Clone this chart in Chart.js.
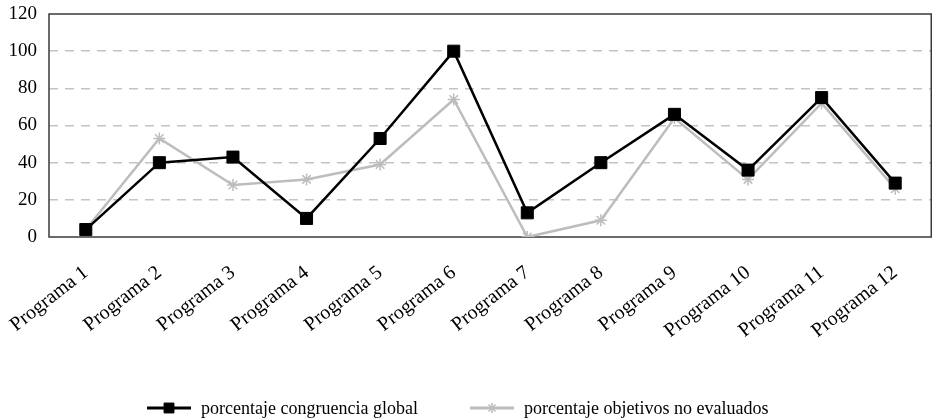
<!DOCTYPE html>
<html>
<head>
<meta charset="utf-8">
<script src="https://cdn.jsdelivr.net/npm/chart.js@4.4.0/dist/chart.umd.min.js"></script>
<style>
  html, body { margin: 0; padding: 0; background: #fff; }
  #wrap { position: relative; width: 932px; height: 420px; overflow: hidden; }
  #legend { position: absolute; left: 0; top: 398px; width: 932px; height: 20px;
            font-family: "Liberation Serif", "DejaVu Serif", serif; font-size: 18px; color: #000; }
  .item { position: absolute; top: 0; display: flex; align-items: center; height: 20px; white-space: nowrap; }
  .item:nth-child(1) { left: 147px; }
  .item:nth-child(2) { left: 470px; }
  .item canvas { margin-right: 10px; }
</style>
</head>
<body>
<div id="wrap">
  <canvas id="chart" width="932" height="420"></canvas>
  <div id="legend"></div>
</div>
<script>
// 数据
const programas = ['Programa 1', 'Programa 2', 'Programa 3', 'Programa 4', 'Programa 5', 'Programa 6',
                   'Programa 7', 'Programa 8', 'Programa 9', 'Programa 10', 'Programa 11', 'Programa 12'];
const congruenciaGlobal = [4, 40, 43, 10, 53, 100, 13, 40, 66, 36, 75, 29];
const objetivosNoEvaluados = [4, 53, 28, 31, 39, 74, 0, 9, 64, 31, 72, 26];
const yTicks = [0, 20, 40, 60, 80, 100, 120];
const seriesNames = ['porcentaje congruencia global', 'porcentaje objetivos no evaluados'];

const FONT = '"Liberation Serif", "DejaVu Serif", serif';

// 边框插件
const framePlugin = {
    id: 'frame',
    beforeDatasetsDraw(chart) {
        const a = chart.chartArea;
        const ctx = chart.ctx;
        ctx.save();
        ctx.strokeStyle = '#3a3a3a';
        ctx.lineWidth = 1.5;
        ctx.strokeRect(a.left, a.top, a.right - a.left - 0.75, a.bottom - a.top);
        ctx.restore();
    }
};

const ctx = document.getElementById('chart').getContext('2d');
const chart = new Chart(ctx, {
    type: 'line',
    data: {
        labels: programas,
        datasets: [
            {
                label: seriesNames[0],
                data: congruenciaGlobal,
                borderColor: '#000000',
                backgroundColor: '#000000',
                borderWidth: 2.5,
                pointStyle: 'rect',
                pointRadius: 8.5,
                pointBorderWidth: 1,
                pointBackgroundColor: '#000000',
                pointBorderColor: '#000000',
                tension: 0,
                fill: false
            },
            {
                label: seriesNames[1],
                data: objetivosNoEvaluados,
                borderColor: '#bdbdbd',
                backgroundColor: '#bdbdbd',
                borderWidth: 2.5,
                pointStyle: 'star',
                pointRadius: 6,
                pointBorderWidth: 1.5,
                pointBackgroundColor: '#bdbdbd',
                pointBorderColor: '#bdbdbd',
                tension: 0,
                fill: false
            }
        ]
    },
    options: {
        responsive: false,
        animation: false,
        layout: { autoPadding: false, padding: { top: 14, right: 0, left: 0, bottom: 0 } },
        plugins: {
            legend: { display: false },
            tooltip: { enabled: false }
        },
        scales: {
            x: {
                offset: true,
                grid: { display: false },
                border: { display: false },
                ticks: {
                    color: '#000',
                    font: { family: FONT, size: 20 },
                    minRotation: 38,
                    maxRotation: 38,
                    autoSkip: false,
                    padding: 16
                },
                afterFit(scale) {
                    scale.height = 183;
                    scale.paddingLeft = 0;
                    scale.paddingRight = 0;
                }
            },
            y: {
                min: 0,
                max: 120,
                afterBuildTicks(scale) { scale.ticks = yTicks.map(v => ({ value: v })); },
                grid: {
                    drawTicks: false,
                    color: c => (c.tick && (c.tick.value === 0 || c.tick.value === 120)) ? 'rgba(0,0,0,0)' : '#c4c4c4',
                    lineWidth: 1.5
                },
                border: { display: false, dash: [9, 7] },
                ticks: {
                    color: '#000',
                    font: { family: FONT, size: 19 },
                    padding: 12
                },
                afterFit(scale) {
                    scale.width = 49;
                    scale.paddingTop = 0;
                    scale.paddingBottom = 0;
                }
            }
        }
    },
    plugins: [framePlugin]
});

// 自定义图例
function buildLegend() {
    const legend = document.getElementById('legend');
    chart.data.datasets.forEach(ds => {
        const item = document.createElement('div');
        item.className = 'item';
        const icon = document.createElement('canvas');
        icon.width = 44;
        icon.height = 20;
        const ic = icon.getContext('2d');
        ic.strokeStyle = ds.borderColor;
        ic.lineWidth = 3;
        ic.beginPath();
        ic.moveTo(0, 10);
        ic.lineTo(44, 10);
        ic.stroke();
        ic.fillStyle = ds.pointBackgroundColor;
        ic.strokeStyle = ds.pointBorderColor;
        ic.lineWidth = ds.pointBorderWidth;
        Chart.helpers.drawPoint(ic, {
            pointStyle: ds.pointStyle,
            radius: ds.pointStyle === 'rect' ? 7 : 5,
            rotation: 0,
            borderWidth: ds.pointBorderWidth
        }, 22, 10);
        item.appendChild(icon);
        const text = document.createElement('span');
        text.textContent = ds.label;
        item.appendChild(text);
        legend.appendChild(item);
    });
}
buildLegend();
</script>
</body>
</html>
